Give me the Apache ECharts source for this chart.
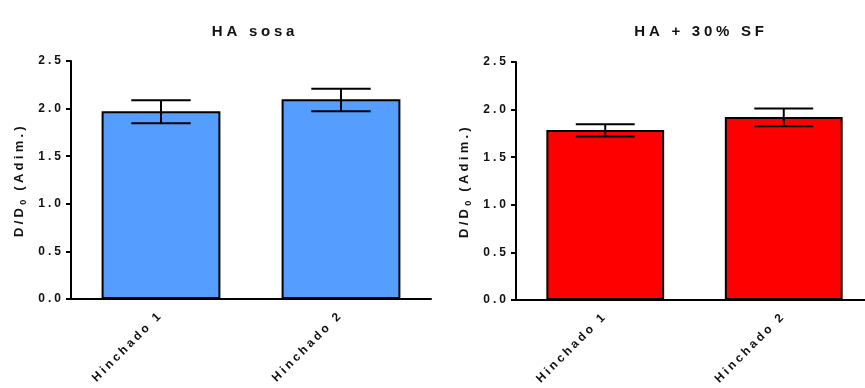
<!DOCTYPE html>
<html>
<head>
<meta charset="utf-8">
<script src="https://cdn.jsdelivr.net/npm/echarts@6/dist/echarts.min.js"></script>
<style>html,body{margin:0;padding:0;background:#fff}#c{width:865px;height:388px}</style>
</head>
<body>
<div id="c"></div>
<script>
const categories = ['Hinchado 1', 'Hinchado 2'];
const titles = ['HA sosa', 'HA + 30% SF'];
const yTicks = [0, 0.5, 1.0, 1.5, 2.0, 2.5];
const sosaMean = [1.972, 2.098];
const sosaLow = [1.845, 1.972];
const sosaHigh = [2.087, 2.209];
const sfMean = [1.787, 1.922];
const sfLow = [1.718, 1.826];
const sfHigh = [1.847, 2.012];

// wide letter spacing like the original (applied to canvas text)
(function () {
  const proto = CanvasRenderingContext2D.prototype;
  const desc = Object.getOwnPropertyDescriptor(proto, 'font');
  if (!desc || !('letterSpacing' in proto)) return;
  Object.defineProperty(proto, 'font', {
    configurable: true,
    get() { return desc.get.call(this); },
    set(v) {
      desc.set.call(this, v);
      const m = /(\d+(?:\.\d+)?)px/.exec(v);
      const size = m ? parseFloat(m[1]) : 12;
      this.letterSpacing = (size * 0.25).toFixed(2) + 'px';
    }
  });
})();

const FONT = 'Arial, "Liberation Sans", sans-serif';
const chart = echarts.init(document.getElementById('c'), null, {renderer: 'canvas'});

const grids = [
  {left: 71, top: 61, width: 360, bottom: 89, outerBoundsMode: 'none'},
  {left: 516, top: 62, width: 357, bottom: 88, outerBoundsMode: 'none'}
];
const colors = ['#559EFF', '#FF0000'];
const means = [sosaMean, sfMean];
const lows = [sosaLow, sfLow];
const highs = [sosaHigh, sfHigh];

function errItem(params, api) {
  const x = api.value(0);
  const lo = api.coord([x, api.value(1)]);
  const hi = api.coord([x, api.value(2)]);
  const bw = api.size([1, 0])[0] * 0.66;
  const half = bw / 4;
  const st = {stroke: '#000', lineWidth: 2};
  return {type: 'group', children: [
    {type: 'line', shape: {x1: lo[0], y1: lo[1], x2: hi[0], y2: hi[1]}, style: st},
    {type: 'line', shape: {x1: hi[0] - half, y1: hi[1], x2: hi[0] + half, y2: hi[1]}, style: st},
    {type: 'line', shape: {x1: lo[0] - half, y1: lo[1], x2: lo[0] + half, y2: lo[1]}, style: st}
  ]};
}

const titleCenters = [250, 696];
const option = {
  animation: false,
  title: titles.map((t, i) => ({
    text: t,
    left: titleCenters[i],
    textAlign: 'center',
    top: 17,
    textStyle: {fontFamily: FONT, fontWeight: 'bold', fontSize: 15, color: '#111'}
  })),
  grid: grids,
  xAxis: grids.map((g, i) => ({
    type: 'category',
    gridIndex: i,
    data: categories,
    axisLine: {lineStyle: {color: '#000', width: 2}},
    axisTick: {alignWithLabel: true, length: 5, lineStyle: {color: '#000', width: 2}},
    axisLabel: {rotate: 45, margin: 14, fontFamily: FONT, fontWeight: 'bold', fontSize: 12, color: '#111'}
  })),
  yAxis: grids.map((g, i) => ({
    type: 'value',
    gridIndex: i,
    min: yTicks[0],
    max: yTicks[yTicks.length - 1],
    interval: 0.5,
    splitLine: {show: false},
    axisLine: {show: true, lineStyle: {color: '#000', width: 2}},
    axisTick: {show: true, length: 5, lineStyle: {color: '#000', width: 2}},
    axisLabel: {margin: 7, fontFamily: FONT, fontWeight: 'bold', fontSize: 12, color: '#111',
      formatter: v => v.toFixed(1)},
    name: '{a|D/D}{s|0}{a| (Adim.)}',
    nameLocation: 'middle',
    nameRotate: 90,
    nameGap: 42,
    nameTextStyle: {rich: {
      a: {fontFamily: FONT, fontWeight: 'bold', fontSize: 13, color: '#111'},
      s: {fontFamily: FONT, fontWeight: 'bold', fontSize: 9, color: '#111', verticalAlign: 'bottom', padding: [8, 0, 0, 0]}
    }}
  })),
  series: []
};

for (let i = 0; i < 2; i++) {
  option.series.push({
    type: 'bar',
    xAxisIndex: i, yAxisIndex: i,
    data: means[i],
    barWidth: '66%',
    itemStyle: {color: colors[i], borderColor: '#000', borderWidth: 2},
    z: 2
  });
  option.series.push({
    type: 'custom',
    xAxisIndex: i, yAxisIndex: i,
    data: categories.map((c, k) => [k, lows[i][k], highs[i][k]]),
    renderItem: errItem,
    z: 3
  });
}
chart.setOption(option);
</script>
</body>
</html>
